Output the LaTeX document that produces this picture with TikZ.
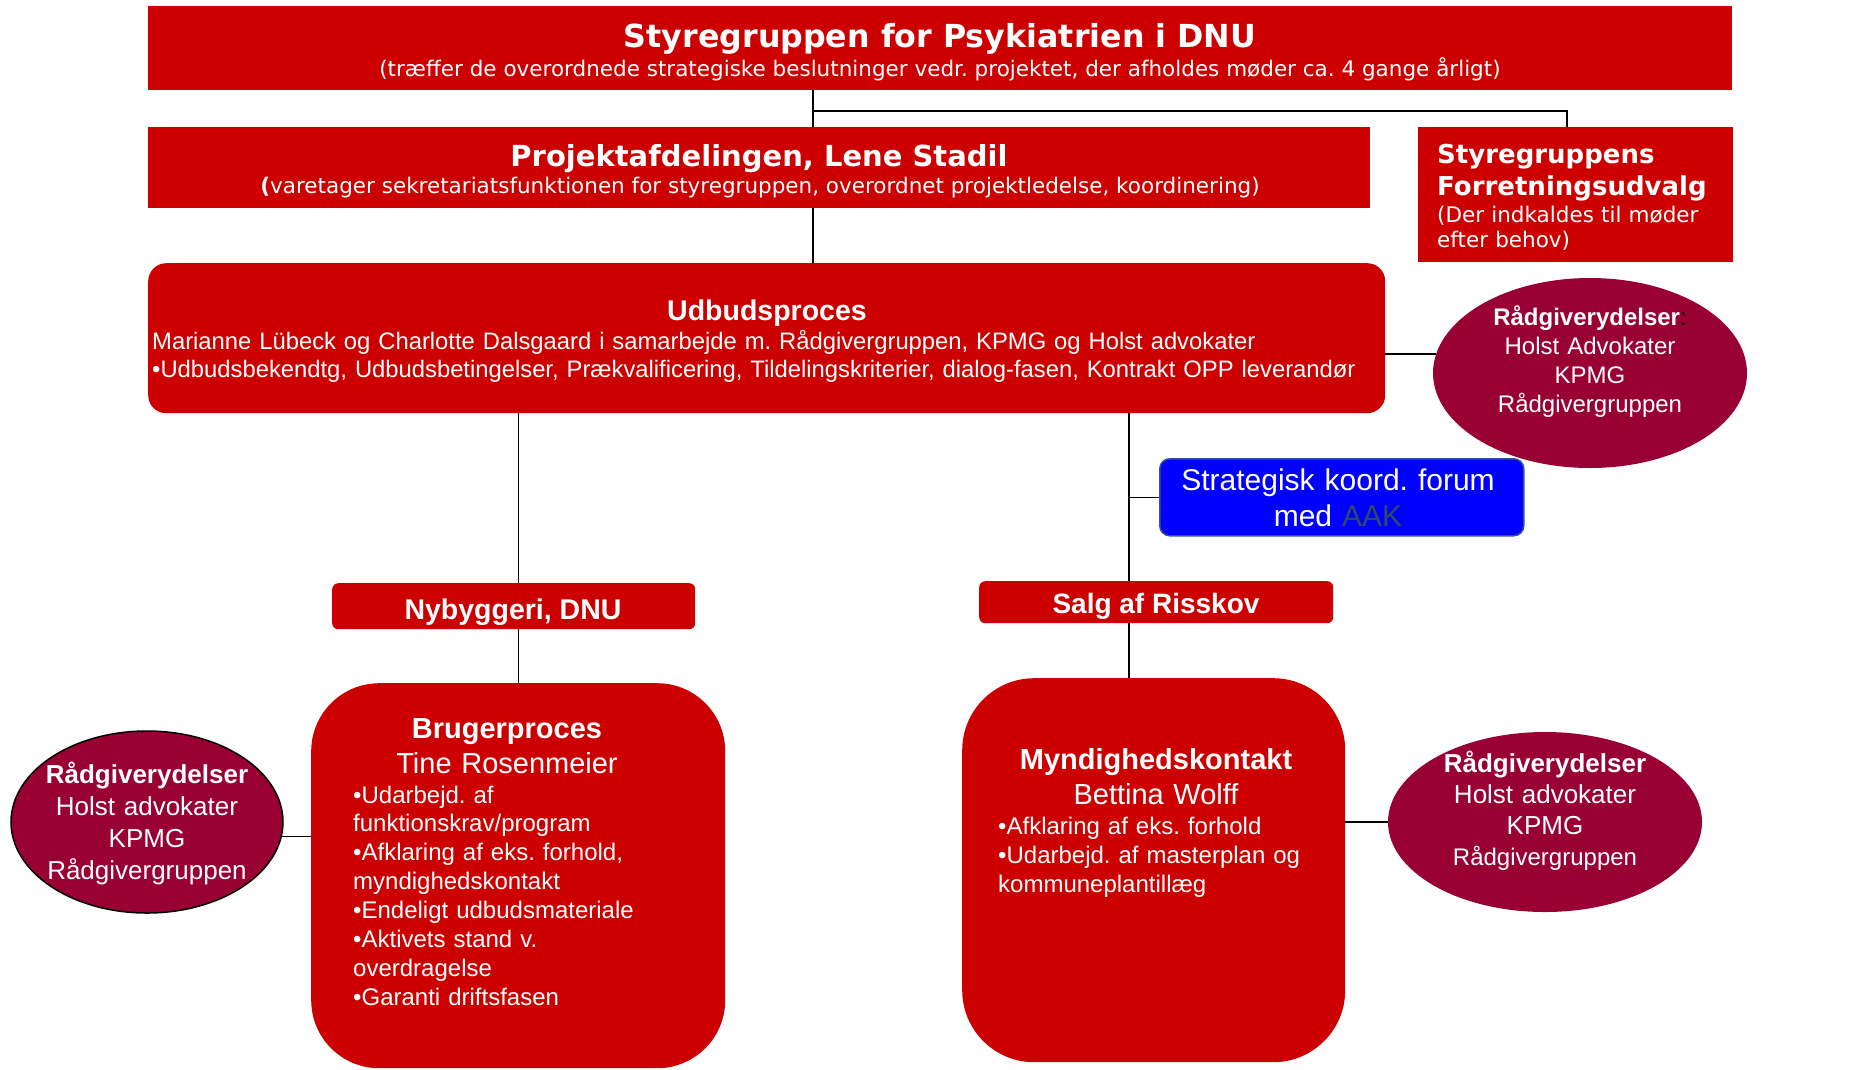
\documentclass[tikz,border=0pt]{standalone}
\usepackage{fontspec}
\setmainfont{Liberation Sans}
\newfontfamily\verdana{DejaVu Sans}
\usetikzlibrary{shapes.geometric}
\frenchspacing
\definecolor{boxred}{HTML}{CC0000}
\definecolor{advred}{HTML}{990033}
\definecolor{forumblue}{HTML}{0000FF}
\definecolor{forumedge}{HTML}{2F5597}
\definecolor{aakgrey}{HTML}{2F4A5E}
\tikzset{
  redbox/.style   = {fill=boxred,inner sep=0pt,anchor=north west},
  advbox/.style   = {ellipse,fill=advred,inner sep=0pt},
  forumbox/.style = {fill=forumblue,draw=forumedge,line width=1.5pt,rounded corners=10pt,inner sep=0pt,anchor=north west},
  link/.style     = {black,line width=1.4pt},
  lbl/.style      = {text=white,inner sep=0pt,anchor=base},
  vhead/.style    = {lbl,font=\verdana\bfseries\fontsize{31.7}{37}\selectfont},
  vnote/.style    = {lbl,font=\verdana\fontsize{21.5}{25}\selectfont},
  ahead/.style    = {lbl,font=\bfseries\fontsize{29}{35}\selectfont},
  abody/.style    = {lbl,font=\fontsize{24}{29}\selectfont}
}

\begin{document}
\begin{tikzpicture}[x=1pt,y=-1pt]
  \useasboundingbox (0,0) rectangle (1851,1069);
  % boxes
  \node[redbox,minimum width=1584pt,minimum height=84pt] (styre) at (148,6) {};
  \node[redbox,minimum width=1222pt,minimum height=81pt] (proj) at (148,127) {};
  \node[redbox,minimum width=315pt,minimum height=135pt] (fu) at (1418,127) {};
  \node[redbox,rounded corners=18pt,minimum width=1237pt,minimum height=150pt] (udb) at (148,263) {};
  \node[forumbox,minimum width=364pt,minimum height=77pt] (forum) at (1159,458) {};
  \node[redbox,rounded corners=6pt,minimum width=363pt,minimum height=46pt] (nyb) at (332,583) {};
  \node[redbox,rounded corners=6pt,minimum width=354pt,minimum height=42pt] (salg) at (979,581) {};
  \node[redbox,rounded corners=68pt,minimum width=414pt,minimum height=385pt] (bruger) at (311,683) {};
  \node[redbox,rounded corners=72pt,minimum width=383pt,minimum height=384pt] (mynd) at (962,678) {};
  \node[advbox,minimum width=314pt,minimum height=190pt] (adv1) at (1590,373) {};
  \node[advbox,draw=black,line width=1.5pt,minimum width=272pt,minimum height=182pt] (adv2) at (147,822) {};
  \node[advbox,minimum width=314pt,minimum height=180pt] (adv3) at (1545,822) {};

  % texts
  \node[vhead] (styre-t) at (940,47) {Styregruppen for Psykiatrien i DNU};
  \node[vnote] (styre-n) at (940,76) {(træffer de overordnede strategiske beslutninger vedr. projektet, der afholdes møder ca. 4 gange årligt)};
  \node[vhead,font=\verdana\bfseries\fontsize{29}{34}\selectfont] (proj-t) at (759,166) {Projektafdelingen, Lene Stadil};
  \node[vnote] (proj-n) at (760,193) {{\bfseries(}varetager sekretariatsfunktionen for styregruppen, overordnet projektledelse, koordinering)};
  \node[vhead,font=\verdana\bfseries\fontsize{26}{32}\selectfont,anchor=base west,text width=300pt,align=left] (fu-t) at (1437,163) {Styregruppens\\Forretningsudvalg};
  \node[vnote,anchor=base west,text width=300pt,align=left] (fu-n) at (1437,222) {(Der indkaldes til møder\\efter behov)};

  \node[ahead,font=\bfseries\fontsize{28.5}{34}\selectfont] (udb-t) at (767,320) {Udbudsproces};
  \node[abody,anchor=base west,text width=1225pt,align=left,font=\fontsize{23.8}{28}\selectfont] (udb-l) at (152,349)
    {Marianne Lübeck og Charlotte Dalsgaard i samarbejde m. Rådgivergruppen, KPMG og Holst advokater\\
     •Udbudsbekendtg, Udbudsbetingelser, Prækvalificering, Tildelingskriterier, dialog-fasen, Kontrakt OPP leverandør};

  \node[abody,text width=300pt,align=center,font=\fontsize{24}{29.3}\selectfont] (adv1-t) at (1590,325)
    {\textbf{Rådgiverydelser}\textcolor{black}{:}\\Holst Advokater\\KPMG\\Rådgivergruppen};

  \node[abody,text width=340pt,align=center,font=\fontsize{30}{36}\selectfont] (forum-t) at (1338,490)
    {Strategisk koord. forum\\med \textcolor{aakgrey}{AAK}};

  \node[ahead,font=\bfseries\fontsize{28.5}{34}\selectfont] (nyb-t) at (513,619) {Nybyggeri, DNU};
  \node[ahead,font=\bfseries\fontsize{28}{34}\selectfont] (salg-t) at (1156,613) {Salg af Risskov};

  \node[ahead,text width=380pt,align=center] (bruger-t) at (507,738) {Brugerproces\\\mdseries Tine Rosenmeier};
  \node[abody,anchor=base west,text width=360pt,align=left,font=\fontsize{24}{28.9}\selectfont] (bruger-l) at (353,803)
    {•Udarbejd. af\\funktionskrav/program\\•Afklaring af eks. forhold,\\myndighedskontakt\\•Endeligt udbudsmateriale\\•Aktivets stand v.\\overdragelse\\•Garanti driftsfasen};

  \node[ahead,text width=380pt,align=center] (mynd-t) at (1156,769) {Myndighedskontakt\\\mdseries Bettina Wolff};
  \node[abody,anchor=base west,text width=340pt,align=left,font=\fontsize{24}{29}\selectfont] (mynd-l) at (998,834)
    {•Afklaring af eks. forhold\\•Udarbejd. af masterplan og\\kommuneplantillæg};

  \node[abody,text width=260pt,align=center,font=\fontsize{26}{32}\selectfont] (adv2-t) at (147,783)
    {\textbf{Rådgiverydelser}\\Holst advokater\\KPMG\\Rådgivergruppen};
  \node[abody,text width=300pt,align=center,font=\fontsize{26}{31.3}\selectfont] (adv3-t) at (1545,772)
    {\textbf{Rådgiverydelser}\\Holst advokater\\KPMG\\{\fontsize{24}{31.3}\selectfont Rådgivergruppen}};

  % connectors
  \coordinate (topspine) at (813,0);
  \coordinate (fujoin) at (1567,111);
  \coordinate (rspine) at (1129,0);
  \draw[link] (topspine |- styre.south) -- (topspine |- proj.north);
  \draw[link] (topspine |- fujoin) -- (fujoin) -- (fujoin |- fu.north);
  \draw[link] (topspine |- proj.south) -- (topspine |- udb.north);
  \draw[link] (udb.east |- adv1.173) -- (adv1.173);
  \draw[link] (udb.south -| bruger.north) -- (nyb.north -| bruger.north);
  \draw[link] (nyb.south -| bruger.north) -- (bruger.north);
  \draw[link] (udb.south -| rspine) -- (salg.north -| rspine);
  \draw[link] (forum.west -| rspine) -- (forum.west);
  \draw[link] (salg.south -| rspine) -- (mynd.north -| rspine);
  \draw[link] (adv2.-6) -- (adv2.-6 -| bruger.west);
  \draw[link] (mynd.east |- adv3.west) -- (adv3.west);
\end{tikzpicture}
\end{document}
